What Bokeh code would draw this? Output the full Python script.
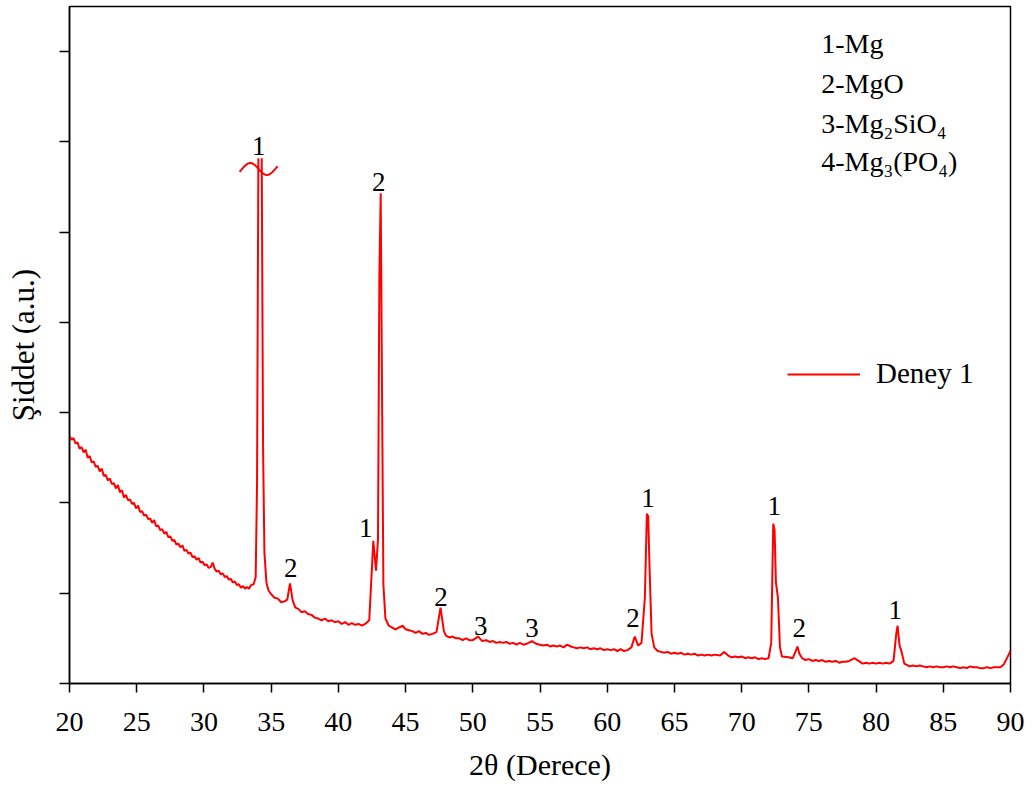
import numpy as np
from bokeh.plotting import figure
from bokeh.models import Range1d, FixedTicker, Legend, LegendItem, ColumnDataSource
from bokeh.core.properties import value
from bokeh.embed import file_html
from bokeh.resources import INLINE

NAN = float("nan")

# ---------------- data ----------------
two_theta = [
    20.0, 20.15, 20.3, 20.45, 20.6, 20.75, 20.9, 21.05, 21.2, 21.35,
    21.5, 21.65, 21.8, 21.95, 22.1, 22.25, 22.4, 22.55, 22.7, 22.85,
    23.0, 23.15, 23.3, 23.45, 23.6, 23.75, 23.9, 24.05, 24.2, 24.35,
    24.5, 24.65, 24.8, 24.95, 25.1, 25.25, 25.4, 25.55, 25.7, 25.85,
    26.0, 26.15, 26.3, 26.45, 26.6, 26.75, 26.9, 27.05, 27.2, 27.35,
    27.5, 27.65, 27.8, 27.95, 28.1, 28.25, 28.4, 28.55, 28.7, 28.85,
    29.0, 29.15, 29.3, 29.45, 29.6, 29.75, 29.9, 30.05, 30.2, 30.35,
    30.5, 30.65, 30.8, 30.95, 31.1, 31.25, 31.4, 31.55, 31.7, 31.85,
    32.0, 32.15, 32.3, 32.45, 32.6, 32.75, 32.9, 33.05, 33.2, 33.35,
    33.5, 33.7, 33.85, 33.95, 34.05, NAN, 34.3, 34.4, 34.5, 34.65,
    34.8, 35.0, 35.25, 35.5, 35.75, 36.0, 36.2, 36.4, 36.6, 36.8,
    37.0, 37.25, 37.5, 37.75, 38.0, 38.25, 38.5, 38.75, 39.0, 39.25,
    39.5, 39.75, 40.0, 40.25, 40.5, 40.75, 41.0, 41.25, 41.5, 41.75,
    42.0, 42.3, 42.6, 42.8, 42.95, 43.05, 43.15, 43.25, 43.35, 43.5,
    43.75, 44.0, 44.25, 44.5, 44.8, 45.0, 45.25, 45.5, 45.75, 46.0,
    46.25, 46.5, 46.75, 47.0, 47.3, 47.6, 47.85, 48.0, 48.25, 48.5,
    48.75, 49.0, 49.25, 49.5, 49.75, 50.0, 50.4, 50.7, 51.0, 51.25,
    51.5, 51.75, 52.0, 52.25, 52.5, 52.75, 53.0, 53.25, 53.5, 53.75,
    54.0, 54.4, 54.7, 55.0, 55.25, 55.5, 55.75, 56.0, 56.25, 56.5,
    56.75, 57.0, 57.3, 57.5, 57.75, 58.0, 58.25, 58.5, 58.75, 59.0,
    59.25, 59.5, 59.75, 60.0, 60.25, 60.5, 60.75, 61.0, 61.25, 61.5,
    61.8, 62.05, 62.3, 62.55, 62.8, 62.95, 63.05, 63.15, 63.3, 63.5,
    63.75, 64.0, 64.25, 64.5, 64.75, 65.0, 65.25, 65.5, 65.75, 66.0,
    66.25, 66.5, 66.75, 67.0, 67.25, 67.5, 67.75, 68.0, 68.4, 68.7,
    69.0, 69.25, 69.5, 69.75, 70.0, 70.25, 70.5, 70.75, 71.0, 71.25,
    71.5, 71.75, 72.0, 72.2, 72.35, 72.45, 72.55, 72.7, 72.85, 73.0,
    73.5, 73.8, 74.0, 74.15, 74.3, 74.5, 74.75, 75.0, 75.25, 75.5,
    75.75, 76.0, 76.25, 76.5, 76.75, 77.0, 77.25, 77.5, 77.75, 78.0,
    78.4, 78.7, 79.0, 79.25, 79.5, 79.75, 80.0, 80.25, 80.5, 80.75,
    81.0, 81.3, 81.5, 81.6, 81.75, 81.9, 82.1, 82.5, 82.75, 83.0,
    83.25, 83.5, 83.75, 84.0, 84.25, 84.5, 84.75, 85.0, 85.25, 85.5,
    85.75, 86.0, 86.25, 86.5, 86.75, 87.0, 87.25, 87.5, 87.75, 88.0,
    88.25, 88.5, 88.75, 89.0, 89.25, 89.5, 89.8, 90.0,
]
intensity = [
    2.74, 2.70, 2.72, 2.66, 2.67, 2.60, 2.62, 2.56, 2.59, 2.50,
    2.52, 2.45, 2.46, 2.40, 2.41, 2.35, 2.38, 2.30, 2.31, 2.25,
    2.27, 2.21, 2.22, 2.16, 2.20, 2.12, 2.14, 2.06, 2.09, 2.03,
    2.04, 1.99, 2.00, 1.94, 1.97, 1.90, 1.91, 1.86, 1.87, 1.82,
    1.83, 1.78, 1.81, 1.74, 1.75, 1.70, 1.71, 1.66, 1.68, 1.62,
    1.63, 1.58, 1.59, 1.54, 1.55, 1.51, 1.53, 1.47, 1.48, 1.44,
    1.45, 1.40, 1.41, 1.37, 1.39, 1.34, 1.35, 1.31, 1.32, 1.28,
    1.29, 1.34, 1.27, 1.24, 1.25, 1.21, 1.22, 1.18, 1.19, 1.15,
    1.16, 1.12, 1.13, 1.09, 1.10, 1.06, 1.08, 1.05, 1.07, 1.05,
    1.09, 1.10, 1.18, 2.20, 5.82, NAN, 5.82, 2.60, 1.45, 1.12,
    1.03, 0.99, 0.95, 0.94, 0.90, 0.91, 0.93, 1.11, 0.92, 0.84,
    0.83, 0.79, 0.80, 0.77, 0.76, 0.73, 0.72, 0.70, 0.72, 0.69,
    0.70, 0.68, 0.69, 0.66, 0.68, 0.65, 0.67, 0.65, 0.66, 0.64,
    0.66, 0.70, 1.58, 1.25, 1.60, 4.50, 5.43, 3.20, 1.10, 0.72,
    0.64, 0.62, 0.60, 0.62, 0.64, 0.60, 0.59, 0.58, 0.56, 0.58,
    0.55, 0.56, 0.54, 0.55, 0.57, 0.84, 0.58, 0.53, 0.51, 0.52,
    0.50, 0.50, 0.48, 0.50, 0.48, 0.48, 0.52, 0.47, 0.48, 0.46,
    0.47, 0.45, 0.46, 0.45, 0.46, 0.44, 0.45, 0.43, 0.45, 0.43,
    0.44, 0.47, 0.44, 0.43, 0.42, 0.43, 0.41, 0.42, 0.41, 0.42,
    0.40, 0.43, 0.41, 0.40, 0.39, 0.40, 0.39, 0.40, 0.38, 0.39,
    0.38, 0.39, 0.37, 0.38, 0.37, 0.38, 0.36, 0.38, 0.36, 0.37,
    0.40, 0.52, 0.42, 0.45, 0.95, 1.88, 1.85, 1.28, 0.55, 0.40,
    0.36, 0.35, 0.34, 0.35, 0.33, 0.34, 0.33, 0.34, 0.32, 0.33,
    0.32, 0.33, 0.31, 0.32, 0.31, 0.32, 0.31, 0.32, 0.31, 0.35,
    0.31, 0.29, 0.30, 0.29, 0.30, 0.28, 0.29, 0.28, 0.29, 0.27,
    0.28, 0.27, 0.28, 0.45, 1.77, 1.70, 1.12, 0.95, 0.40, 0.30,
    0.29, 0.28, 0.35, 0.41, 0.33, 0.28, 0.26, 0.27, 0.25, 0.26,
    0.25, 0.26, 0.24, 0.25, 0.24, 0.25, 0.23, 0.24, 0.24, 0.25,
    0.28, 0.25, 0.22, 0.23, 0.22, 0.23, 0.22, 0.23, 0.22, 0.23,
    0.22, 0.25, 0.55, 0.64, 0.42, 0.35, 0.22, 0.19, 0.20, 0.19,
    0.20, 0.19, 0.18, 0.19, 0.18, 0.19, 0.18, 0.18, 0.19, 0.18,
    0.19, 0.18, 0.17, 0.18, 0.17, 0.19, 0.18, 0.18, 0.17, 0.17,
    0.18, 0.17, 0.18, 0.18, 0.18, 0.21, 0.30, 0.36,
]
assert len(two_theta) == len(intensity)

# peak annotations (phase number above each peak)
peak_x = [34.07, 36.46, 42.04, 43.0, 47.63, 50.6, 54.4, 61.92, 63.04, 72.42, 74.28, 81.43]
peak_y = [5.96, 1.28, 1.72, 5.56, 0.96, 0.64, 0.62, 0.73, 2.05, 1.97, 0.62, 0.81]
peak_text = ["1", "2", "1", "2", "2", "3", "3", "2", "1", "1", "2", "1"]

# phase key (top right)
phase_labels = ["1-Mg", "2-MgO", "3-Mg\u2082SiO\u2084", "4-Mg\u2083(PO\u2084)"]
phase_x = [75.92, 75.92, 75.92, 75.92]
phase_y = [7.09, 6.65, 6.20, 5.78]

# axis ticks
x_ticks = [20, 25, 30, 35, 40, 45, 50, 55, 60, 65, 70, 75, 80, 85, 90]
y_ticks = [0, 1, 2, 3, 4, 5, 6, 7]

series_name = "Deney 1"
x_title = "2\u03b8 (Derece)"
y_title = "\u015eiddet (a.u.)"

# axis-break mark on the clipped peak
break_center_x = 34.07
break_center_y = 5.70
break_half_width = 1.42
break_amp = 0.066

FONT = "Liberation Serif"
RED = "#ff0000"

p = figure(width=1032, height=790,
           x_range=Range1d(20, 90), y_range=Range1d(0, 7.5),
           output_backend="svg", toolbar_location=None,
           min_border_left=69, min_border_right=22,
           min_border_top=6, min_border_bottom=107)

p.background_fill_color = "white"
p.border_fill_color = "white"
p.outline_line_color = "black"
p.outline_line_width = 1.5
p.xgrid.visible = False
p.ygrid.visible = False

src = ColumnDataSource(dict(x=two_theta, y=intensity))
r = p.line("x", "y", source=src, line_color=RED, line_width=2)

# break mark
u = np.linspace(-1.15, 1.15, 60)
bx = break_center_x + u * break_half_width / 1.15
by = break_center_y - break_amp * np.sin(np.pi * u)
p.line(bx, by, line_color=RED, line_width=2)

# peak labels
lab_src = ColumnDataSource(dict(x=peak_x, y=peak_y, t=peak_text))
p.text("x", "y", text="t", source=lab_src, text_font=value(FONT),
       text_font_size="27px", text_align="center", text_baseline="middle",
       text_color="black")

# phase key
ph_src = ColumnDataSource(dict(x=phase_x, y=phase_y, t=phase_labels))
p.text("x", "y", text="t", source=ph_src, text_font=value(FONT),
       text_font_size="28px", text_align="left", text_baseline="alphabetic",
       text_color="black")

# axes
xa = p.xaxis[0]
xa.ticker = FixedTicker(ticks=x_ticks)
xa.major_tick_out = 9
xa.major_tick_in = 0
xa.minor_tick_line_color = None
xa.axis_line_width = 1.5
xa.major_tick_line_width = 1.5
xa.major_label_text_font = FONT
xa.major_label_text_font_size = "28px"
xa.major_label_text_color = "black"
xa.major_label_standoff = 20
xa.axis_label = x_title
xa.axis_label_text_font = FONT
xa.axis_label_text_font_size = "30px"
xa.axis_label_text_font_style = "normal"
xa.axis_label_text_color = "black"
xa.axis_label_standoff = 14

ya = p.yaxis[0]
ya.ticker = FixedTicker(ticks=y_ticks)
ya.major_tick_out = 10
ya.major_tick_in = 0
ya.minor_tick_line_color = None
ya.axis_line_width = 1.5
ya.major_tick_line_width = 1.5
ya.major_label_overrides = {t: "" for t in y_ticks}
ya.major_label_standoff = 0
ya.axis_label = y_title
ya.axis_label_text_font = FONT
ya.axis_label_text_font_size = "31px"
ya.axis_label_text_font_style = "normal"
ya.axis_label_text_color = "black"
ya.axis_label_standoff = 19

legend = Legend(items=[LegendItem(label=series_name, renderers=[r])],
                location=(718, 293), orientation="vertical",
                glyph_width=73, glyph_height=30, label_height=30,
                label_standoff=16, padding=0, margin=0, spacing=0,
                border_line_alpha=0, background_fill_alpha=0,
                label_text_font=FONT, label_text_font_size="29px",
                label_text_color="black")
p.add_layout(legend, "center")

open("out.html", "w").write(file_html(p, INLINE))
